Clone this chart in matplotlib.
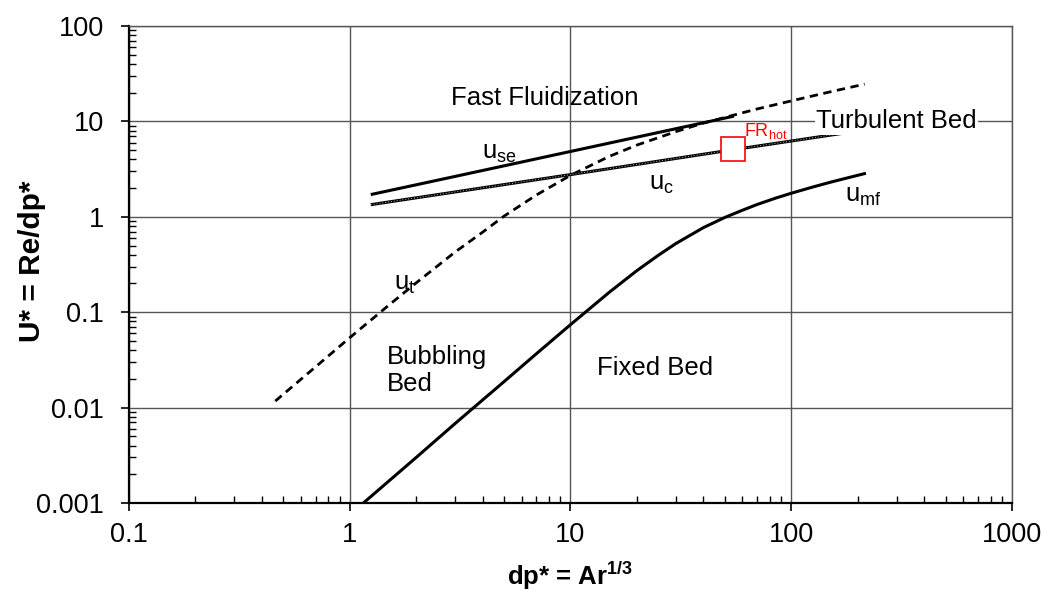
import matplotlib
matplotlib.use("Agg")
import matplotlib.pyplot as plt
from matplotlib.ticker import LogLocator, FixedLocator, NullFormatter

plt.rcParams['font.family'] = ['Liberation Sans', 'DejaVu Sans']
plt.rcParams['mathtext.fontset'] = 'custom'
plt.rcParams['mathtext.rm'] = 'Liberation Sans'
plt.rcParams['mathtext.it'] = 'Liberation Sans:italic'
plt.rcParams['mathtext.bf'] = 'Liberation Sans:bold'

# ---- data ----
umf_x = [1.13, 2, 3, 5, 7, 10, 15, 20, 25, 30, 40, 50, 60, 70, 85, 100, 125, 150, 180, 218]
umf_y = [0.00096, 0.0030, 0.0068, 0.0187, 0.0366, 0.074, 0.162, 0.273, 0.395, 0.524, 0.77, 0.984,
         1.17, 1.345, 1.57, 1.766, 2.05, 2.30, 2.56, 2.86]

ut_x = [0.46, 0.7, 1.0, 1.5, 2.0, 3.0, 4.0, 5.0, 7.0, 10, 15, 20, 30, 40, 50, 70, 100, 150, 215]
ut_y = [0.0117, 0.0267, 0.054, 0.118, 0.203, 0.427, 0.69, 1.016, 1.69, 2.72, 4.30, 5.65, 7.81,
        9.6, 11.0, 13.5, 16.4, 20.4, 24.6]

use_x = [1.245, 3, 10, 30, 55]
use_y = [1.71, 2.65, 4.84, 8.38, 11.35]

uc_x = [1.245, 10, 50, 215]
uc_y = [1.34, 2.77, 4.90, 8.12]

fr_x = [54.3]
fr_y = [5.16]

xticks = [0.1, 1, 10, 100, 1000]
xtick_labels = ['0.1', '1', '10', '100', '1000']
yticks = [0.001, 0.01, 0.1, 1, 10, 100]
ytick_labels = ['0.001', '0.01', '0.1', '1', '10', '100']

fig = plt.figure(figsize=(10.59, 5.90), dpi=100)
ax = fig.add_axes([0.1218, 0.1475, 0.9556 - 0.1218, 0.9559 - 0.1475])
ax.set_xscale('log')
ax.set_yscale('log')
ax.set_xlim(0.1, 1000)
ax.set_ylim(0.001, 100)

ax.grid(True, which='major', color='#555555', lw=1.0)
ax.set_axisbelow(True)

ax.plot(umf_x, umf_y, color='black', lw=2.2, solid_capstyle='butt')
ax.plot(ut_x, ut_y, color='black', lw=2.0, dashes=(3, 2))
ax.plot(use_x, use_y, color='black', lw=2.2, solid_capstyle='butt')
ax.plot(uc_x, uc_y, color='black', lw=2.2, solid_capstyle='butt')
ax.plot(uc_x, uc_y, color='#bbbbbb', lw=0.7, dashes=(1, 2))
ax.plot(fr_x, fr_y, 's', ms=17, mfc='white', mec='#ff0000', mew=1.2, zorder=5)

fs = 18.5
ax.text(7.64, 17.7, 'Fast Fluidization', fontsize=fs, ha='center', va='center')
ax.text(300, 10, 'Turbulent Bed', fontsize=fs, ha='center', va='center',
        bbox=dict(facecolor='white', edgecolor='none', pad=1))
ax.text(4.78, 4.69, r'u$_{\mathregular{se}}$', fontsize=fs, ha='center', va='center')
ax.text(25.9, 2.22, r'u$_{\mathregular{c}}$', fontsize=fs, ha='center', va='center')
ax.text(213, 1.66, r'u$_{\mathregular{mf}}$', fontsize=fs, ha='center', va='center')
ax.text(1.77, 0.199, r'u$_{\mathregular{t}}$', fontsize=fs, ha='center', va='center')
ax.text(1.47, 0.0243, 'Bubbling\nBed', fontsize=fs, ha='left', va='center', linespacing=1.15)
ax.text(24.1, 0.0261, 'Fixed Bed', fontsize=fs, ha='center', va='center')
ax.text(61.0, 7.97, r'FR$_{\mathregular{hot}}$', fontsize=13, color='#ff0000', ha='left', va='center')

ax.xaxis.set_major_locator(FixedLocator(xticks))
ax.set_xticklabels(xtick_labels)
ax.yaxis.set_major_locator(FixedLocator(yticks))
ax.set_yticklabels(ytick_labels)
ax.xaxis.set_minor_locator(LogLocator(base=10, subs=range(2, 10)))
ax.yaxis.set_minor_locator(LogLocator(base=10, subs=range(2, 10)))
ax.xaxis.set_minor_formatter(NullFormatter())
ax.yaxis.set_minor_formatter(NullFormatter())
ax.tick_params(which='major', direction='out', length=6, width=1.2, labelsize=19.5)
ax.tick_params(axis='x', which='major', pad=8)
ax.tick_params(axis='y', which='major', pad=12)
ax.tick_params(which='minor', direction='in', length=5, width=1.0)

for s in ['left', 'bottom']:
    ax.spines[s].set_linewidth(1.6)
for s in ['top', 'right']:
    ax.spines[s].set_color('#555555')
    ax.spines[s].set_linewidth(1.0)

fig.text(570 / 1059, 1 - 576 / 590, r'dp* = Ar$^{\mathbf{1/3}}$', fontsize=18.5,
         fontweight='bold', ha='center', va='center')
fig.text(32 / 1059, 1 - 261 / 590, 'U* = Re/dp*', fontsize=21.5, fontweight='bold',
         rotation=90, ha='center', va='center')

fig.savefig('out.png', dpi=100)
